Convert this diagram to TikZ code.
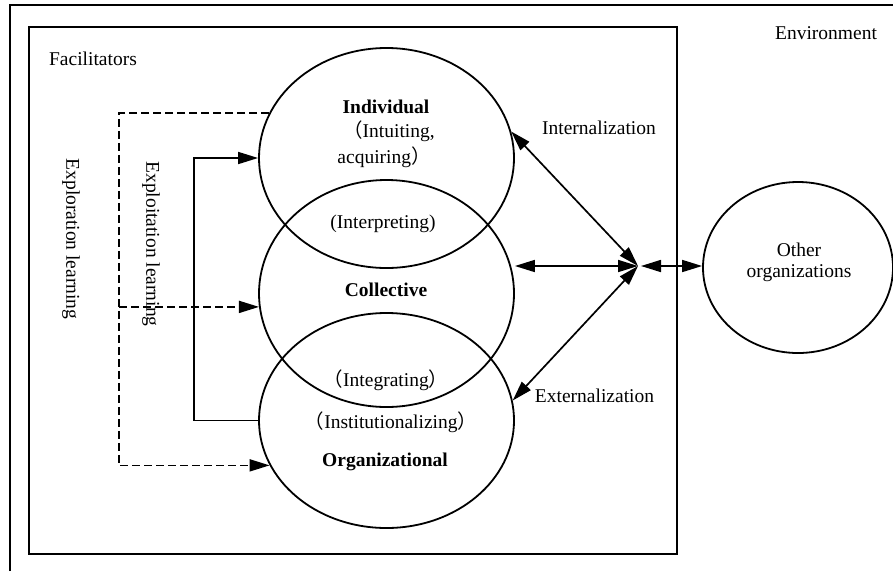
\documentclass[tikz,border=0pt]{standalone}
\usepackage{fontspec}
\setmainfont{Liberation Serif}
\newfontfamily\cjkparen{Noto Sans CJK SC}
\usetikzlibrary{arrows.meta,shapes.geometric}
% full-width brackets
\newcommand{\flp}{{\cjkparen （}}
\newcommand{\frp}{{\cjkparen ）}}

\begin{document}
\begin{tikzpicture}[x=1pt,y=-1pt,
  every node/.style={font=\fontsize{19.5}{23}\selectfont, inner sep=0pt},
  blob/.style={draw, ellipse, line width=1.8pt, inner sep=0pt},
  conn/.style={line width=1.7pt},
  dsh/.style={line width=1.7pt, dash pattern=on 8pt off 4pt},
  tip/.style={-{Triangle[length=20pt,width=12pt]}},
  both/.style={{Triangle[length=20pt,width=12pt]}-{Triangle[length=20pt,width=12pt]}},
]
\useasboundingbox (0,0) rectangle (893,571);

% environment frame (runs off the page) and facilitators frame
\draw[line width=2pt] (10,571) -- (10,5) -- (895,5);
\draw[line width=1.8pt] (29,27) rectangle (677,554);

\node (env) at (826,33) {Environment};
\node (fac) at (93,59) {Facilitators};

% the three learning levels
\node[blob, minimum width=255pt, minimum height=220pt] (ind) at (386.5,158) {};
\node[blob, minimum width=255pt, minimum height=227pt] (col) at (386.5,293.5) {};
\node[blob, minimum width=255pt, minimum height=215pt] (org) at (386.5,420.5) {};
\node[blob, minimum width=190pt, minimum height=171pt] (oth) at (798,267.5) {};

% labels inside the ellipses
\node (tind) at (386,107) {\textbf{Individual}};
\node (tintu) at (389,131) {\flp Intuiting,};
\node (tacq) at (384,157) {acquiring\frp};
\node (tinterp) at (383,224) {(Interpreting)};
\node (tcol) at (386,290) {\textbf{Collective}};
\node (tinteg) at (386,380) {\flp Integrating\frp};
\node (tinst) at (391,422) {\flp Institutionalizing\frp};
\node (torg) at (385,462) {\textbf{Organizational}};
\node[align=center, font=\fontsize{19.5}{21}\selectfont] (toth) at (799,262) {Other\\organizations};

\node (tin) at (599,128) {Internalization};
\node (tex) at (594.5,396) {Externalization};
\node[rotate=-90] (texplor) at (71,239) {Exploration learning};
\node[rotate=-90] (texploit) at (151,244) {Exploitation learning};

% links to the outside
\coordinate (J) at (638,266);
\coordinate (J2) at (641,266);
\draw[conn,both] (ind.12) -- (J);
\draw[conn,both] (J -| col.east) -- (J);
\draw[conn,both] (org.9) -- (J);
\draw[conn,both] (J2) -- (J2 -| oth.west);

% exploitation feedback loop
\draw[conn,tip] (org.west) -- ++(-64,0) |- (ind.west);

% exploration feed-forward (dashed)
\coordinate (dx) at (119,0);
\draw[dsh,tip] (ind.159) -- (ind.159 -| dx) -- (dx |- org.201) -- (org.201);
\draw[dsh,tip] (dx |- col.186) -- (col.186);
\end{tikzpicture}
\end{document}
